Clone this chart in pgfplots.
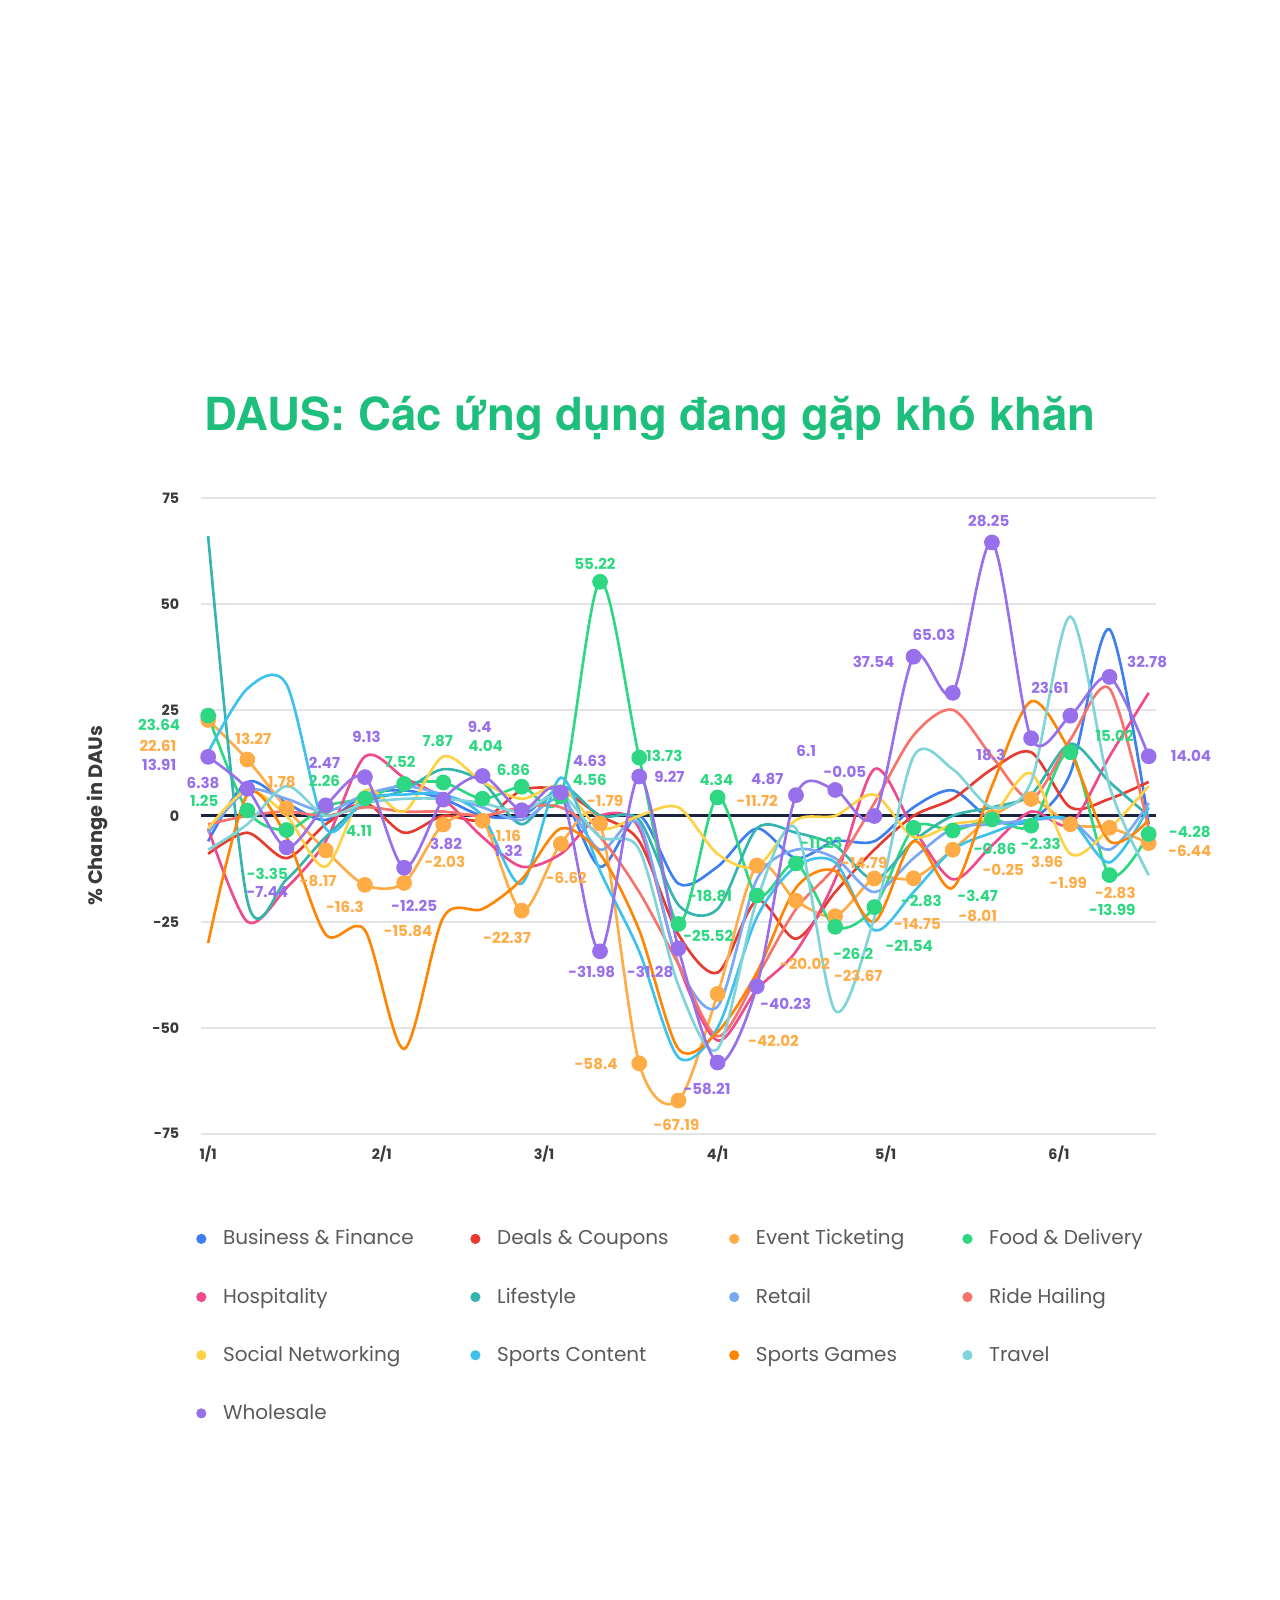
\documentclass[border=0pt]{standalone}
\usepackage{fontspec}
\setmainfont{Poppins}
\newfontfamily\titlefont{TeX Gyre Heros}
\usepackage{graphicx}
\usepackage{pgfplots}
\usepackage{pgfplotstable}
\pgfplotsset{compat=1.18}

\definecolor{cBiz}{HTML}{3D7EF0}
\definecolor{cDeals}{HTML}{E63B2E}
\definecolor{cEvent}{HTML}{FFAC47}
\definecolor{cFood}{HTML}{2ED882}
\definecolor{cHosp}{HTML}{EE4A8C}
\definecolor{cLife}{HTML}{35B4B0}
\definecolor{cRetail}{HTML}{7AA8F5}
\definecolor{cRide}{HTML}{F8736B}
\definecolor{cSocial}{HTML}{FFD245}
\definecolor{cSC}{HTML}{3EC1EF}
\definecolor{cSG}{HTML}{FF8505}
\definecolor{cTravel}{HTML}{7FD4D9}
\definecolor{cWhole}{HTML}{9970EC}
\definecolor{cTitle}{HTML}{1EBE7C}
\definecolor{cGrid}{HTML}{E3E4E8}
\definecolor{cZero}{HTML}{1B2340}
\definecolor{cTick}{HTML}{3A3A3A}
\definecolor{cLeg}{HTML}{5A5A5A}

\pgfplotstableread{
i biz deals event food hosp life retail ride social sc sg travel whole
0 -6 -9 22.61 23.64 -3 66 -4 -2 -3 15 -30 -8 13.91
1 8 -4 13.27 1.25 -25 -20 6 0 6 30 5 -2 6.38
2 3 -10 1.78 -3.35 -17 -15 4 1 0 31 -5 7 -7.44
3 -1 -2 -8.17 2.26 -6 -5 1 0 -12 -3 -28 0 2.47
4 5 3 -16.3 4.11 14 3 5 2 6 4 -27 3 9.13
5 6 -4 -15.84 7.52 9 6 7 1 1 5 -55 4 -12.25
6 4 0 -2.03 7.87 4 11 5 1 14 5 -24 4 3.82
7 0 -1 -1.16 4.04 -5 8 2 0 8 0 -22 3 9.4
8 0 6 -22.37 6.86 -12 -2 -1 2 4 -16 -15 1 1.32
9 5 6 -6.62 4.56 -9 7 4 2 7 9 -3 5 5.5
10 -12 0 -1.79 55.22 0 0 -8 -5 -3 -13 -9 -5 -31.98
11 0 -6 -58.4 13.73 -3 -1 -2 -18 0 -32 -27 -8 9.27
12 -16 -28 -67.19 -25.52 -35 -21 -35 -35 2 -57 -55 -40 -31.28
13 -12 -37 -42.02 4.34 -53 -22 -45 -52 -9 -50 -51 -55 -58.21
14 -3 -20 -11.72 -18.81 -41 -3 -15 -38 -12 -24 -37 -20 -40.23
15 -10 -29 -20.02 -11.23 -32 -4 -8 -22 -1 -12 -17 -3 4.87
16 -6 -18 -23.67 -26.2 -15 -7 -10 -12 0 -11 -13 -46 6.1
17 -6 -8 -14.79 -21.54 11 -15 -18 3 5 -27 -25 -24 -0.05
18 2 0 -14.75 -2.83 -3 -6 -10 19 -5 -18 -6 14 37.54
19 6 4 -8.01 -3.47 -15 0 -3 25 -2 -8 -17 11 29
20 -1 11 -0.25 -0.86 -7 2 -2 14 0 -4 7 2 64.5
21 -1 15 3.96 -2.33 1 5 -1 4 10 -1 27 8 18.3
22 10 2 -1.99 15.02 -2 17 -1 18 -9 -1 15 47 23.61
23 44 4 -2.83 -13.99 14 8 -8 30 -3 -11 -6 7 32.78
24 -2 8 -6.44 -4.28 29 0 3 -3 7 2 -1 -14 14.04
}\data

\tikzset{lab/.style={font=\fontsize{7.4}{8}\selectfont\bfseries, inner sep=0pt}}
\newcommand\LG[3]{\node[lab,text=cFood] at (axis cs:#1,#2) {#3};}
\newcommand\LO[3]{\node[lab,text=cEvent] at (axis cs:#1,#2) {#3};}
\newcommand\LP[3]{\node[lab,text=cWhole] at (axis cs:#1,#2) {#3};}
\newcommand\LA[1]{\makebox[120.5pt][l]{#1}}
\newcommand\LB[1]{\makebox[113pt][l]{#1}}
\newcommand\LC[1]{\makebox[100.5pt][l]{#1}}
\newcommand\LD[1]{\makebox[100pt][l]{#1}}

\begin{document}
\begin{tikzpicture}
\begin{axis}[
  scale only axis, width=468pt, height=311.5pt,
  xmin=-0.182, xmax=24.19, ymin=-75, ymax=75,
  clip=false,
  axis line style={draw=none},
  major tick length=0pt,
  tick style={draw=none},
  /pgf/number format/assume math mode=true,
  ytick={-75,-50,-25,25,50,75},
  yticklabels={-75,-50,-25,25,50,75},
  extra y ticks={0}, extra y tick labels={0},
  extra y tick style={grid=major, major grid style={color=cZero, line width=1.3pt}},
  ymajorgrids,
  major grid style={color=cGrid, line width=0.9pt},
  xtick={0,4.43,8.57,13,17.29,21.71},
  xticklabels={1/1,2/1,3/1,4/1,5/1,6/1},
  ticklabel style={font=\fontsize{7}{8}\selectfont\bfseries, text=cTick, inner sep=0pt},
  yticklabel style={anchor=east, xshift=-10.5pt},
  xticklabel style={anchor=north, yshift=-6pt},
  ylabel={\% Change in DAUs},
  ylabel style={at={(axis description cs:-0.109,0.5)}, anchor=center, font=\fontsize{9.5}{11}\selectfont\bfseries, text=cTick},
  legend columns=4,
  legend cell align=left,
  legend image code/.code={\path (-2.5pt,0pt) (10pt,0pt); \fill[#1, draw=none] (0pt,0pt) circle (2.5pt);},
  legend style={at={(axis description cs:0,0)}, anchor=north west, xshift=-3pt, yshift=-37.3pt,
    draw=none, fill=none, inner sep=0pt, outer sep=0pt, column sep=0pt, row sep=0pt,
    font=\fontsize{9.8}{11}\selectfont, text=cLeg,
    nodes={inner sep=0pt, outer sep=0pt, text height=17.2pt, text depth=11.3pt}},
  every axis plot/.append style={line width=1.3pt, smooth},
  mk/.style={mark=*, mark size=3.2pt, mark options={solid, fill=#1, draw=#1}},
]
\addplot[cBiz, mark=none] table[x=i,y=biz]{\data}; \addlegendentry{\LA{Business \& Finance}}
\addplot[cDeals, mark=none] table[x=i,y=deals]{\data}; \addlegendentry{\LB{Deals \& Coupons}}
\addplot[cEvent, mk=cEvent] table[x=i,y=event]{\data}; \addlegendentry{\LC{Event Ticketing}}
\addplot[cFood, mk=cFood] table[x=i,y=food]{\data}; \addlegendentry{\LD{Food \& Delivery}}
\addplot[cHosp, mark=none] table[x=i,y=hosp]{\data}; \addlegendentry{\LA{Hospitality}}
\addplot[cLife, mark=none] table[x=i,y=life]{\data}; \addlegendentry{\LB{Lifestyle}}
\addplot[cRetail, mark=none] table[x=i,y=retail]{\data}; \addlegendentry{\LC{Retail}}
\addplot[cRide, mark=none] table[x=i,y=ride]{\data}; \addlegendentry{\LD{Ride Hailing}}
\addplot[cSocial, mark=none] table[x=i,y=social]{\data}; \addlegendentry{\LA{Social Networking}}
\addplot[cSC, mark=none] table[x=i,y=sc]{\data}; \addlegendentry{\LB{Sports Content}}
\addplot[cSG, mark=none] table[x=i,y=sg]{\data}; \addlegendentry{\LC{Sports Games}}
\addplot[cTravel, mark=none] table[x=i,y=travel]{\data}; \addlegendentry{\LD{Travel}}
\addplot[cWhole, mk=cWhole] table[x=i,y=whole]{\data}; \addlegendentry{\LA{Wholesale}}

\LG{-1.25}{21.4}{23.64}
\LG{-0.10}{3.4}{1.25}
\LG{1.51}{-13.7}{-3.35}
\LG{2.97}{8.2}{2.26}
\LG{3.85}{-3.6}{4.11}
\LG{4.90}{12.8}{7.52}
\LG{5.86}{17.6}{7.87}
\LG{7.08}{16.6}{4.04}
\LG{7.79}{10.8}{6.86}
\LG{9.74}{8.4}{4.56}
\LG{9.87}{59.5}{55.22}
\LG{11.64}{14.2}{13.73}
\LG{12.76}{-28.4}{-25.52}
\LG{12.97}{8.4}{4.34}
\LG{12.81}{-18.8}{-18.81}
\LG{15.65}{-6.3}{-11.23}
\LG{16.46}{-32.7}{-26.2}
\LG{17.89}{-30.6}{-21.54}
\LG{18.20}{-20.2}{-2.83}
\LG{19.64}{-19.0}{-3.47}
\LG{20.08}{-7.9}{-0.86}
\LG{21.25}{-6.7}{-2.33}
\LG{23.13}{18.8}{15.02}
\LG{23.07}{-22.2}{-13.99}
\LG{25.05}{-3.9}{-4.28}

\LO{-1.28}{16.6}{22.61}
\LO{1.15}{18.1}{13.27}
\LO{1.88}{7.9}{1.78}
\LO{2.81}{-15.4}{-8.17}
\LO{3.49}{-21.4}{-16.3}
\LO{5.10}{-27.2}{-15.84}
\LO{6.04}{-10.8}{-2.03}
\LO{7.55}{-4.8}{-1.16}
\LO{7.63}{-28.9}{-22.37}
\LO{9.14}{-14.7}{-6.62}
\LO{10.13}{3.6}{-1.79}
\LO{9.90}{-58.5}{-58.4}
\LO{11.95}{-72.9}{-67.19}
\LO{14.43}{-53.2}{-42.02}
\LO{14.01}{3.4}{-11.72}
\LO{15.23}{-34.9}{-20.02}
\LO{16.59}{-37.8}{-23.67}
\LO{16.74}{-11.0}{-14.79}
\LO{18.10}{-25.5}{-14.75}
\LO{19.64}{-23.6}{-8.01}
\LO{20.29}{-12.8}{-0.25}
\LO{21.41}{-10.8}{3.96}
\LO{21.95}{-15.9}{-1.99}
\LO{23.15}{-18.1}{-2.83}
\LO{25.05}{-8.4}{-6.44}

\LP{-1.25}{12.0}{13.91}
\LP{-0.13}{7.7}{6.38}
\LP{1.51}{-18.1}{-7.44}
\LP{2.97}{12.5}{2.47}
\LP{4.04}{18.5}{9.13}
\LP{5.26}{-21.2}{-12.25}
\LP{6.07}{-6.7}{3.82}
\LP{6.93}{20.9}{9.4}
\LP{7.66}{-8.2}{1.32}
\LP{9.74}{13.0}{4.63}
\LP{9.79}{-36.8}{-31.98}
\LP{11.28}{-36.8}{-31.28}
\LP{11.77}{9.1}{9.27}
\LP{12.73}{-64.5}{-58.21}
\LP{14.74}{-44.5}{-40.23}
\LP{14.27}{8.7}{4.87}
\LP{15.26}{15.4}{6.1}
\LP{16.25}{10.4}{-0.05}
\LP{16.98}{36.4}{37.54}
\LP{18.52}{42.6}{65.03}
\LP{19.92}{69.6}{28.25}
\LP{19.97}{14.4}{18.3}
\LP{21.48}{30.1}{23.61}
\LP{23.96}{36.4}{32.78}
\LP{25.08}{14.2}{14.04}
\end{axis}
\node[anchor=base, text=cTitle, inner sep=0pt] at (220pt,344.5pt)
  {\resizebox{436.5pt}{!}{\titlefont\bfseries DAUS: Các ứng dụng đang gặp khó khăn}};
\pgfresetboundingbox
\path[use as bounding box] (-98.5pt,-228.5pt) rectangle (528.5pt,555.5pt);
\end{tikzpicture}
\end{document}
